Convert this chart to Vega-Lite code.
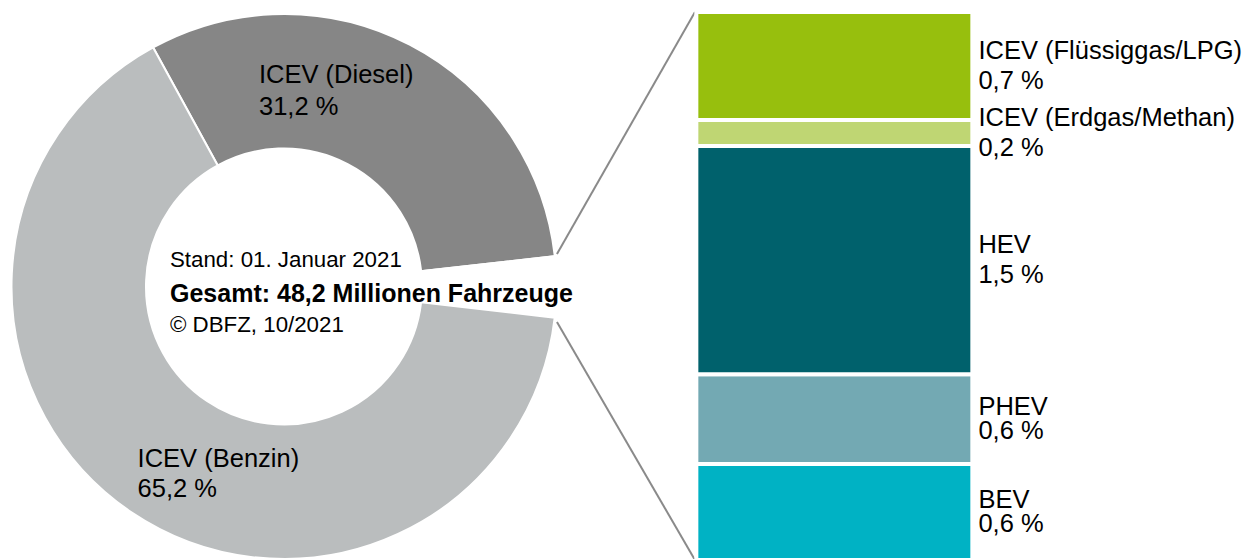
{
  "$schema": "https://vega.github.io/schema/vega-lite/v6.json",
  "background": "#ffffff",
  "padding": {"top": 10, "left": 0, "right": 0, "bottom": 0},
  "spacing": 0,
  "bounds": "flush",
  "resolve": {"scale": {"color": "independent", "theta": "independent"}},
  "config": {
    "view": {"stroke": null},
    "font": "Liberation Sans",
    "text": {"font": "Liberation Sans", "fontSize": 25.5, "color": "#000000"}
  },
  "hconcat": [
    {
      "width": 568,
      "height": 549,
      "data": {
        "values": [
          {"segment": "ICEV (Diesel)", "share": 31.2, "k": 1, "label": "ICEV (Diesel)\n31,2 %"},
          {"segment": "Weitere Antriebe", "share": 3.6, "k": 2, "label": ""},
          {"segment": "ICEV (Benzin)", "share": 65.2, "k": 3, "label": "ICEV (Benzin)\n65,2 %"}
        ]
      },
      "layer": [
        {
          "mark": {"type": "arc", "outerRadius": 272.5, "innerRadius": 138, "stroke": "#ffffff", "strokeWidth": 2},
          "encoding": {
            "theta": {"field": "share", "type": "quantitative", "stack": "zero", "scale": {"domain": [0, 100], "range": [-0.5009, 5.7823]}},
            "order": {"field": "k", "type": "quantitative"},
            "color": {
              "field": "segment", "type": "nominal", "legend": null,
              "scale": {"domain": ["ICEV (Diesel)", "Weitere Antriebe", "ICEV (Benzin)"], "range": ["#868686", "#ffffff", "#babdbe"]}
            }
          }
        },
        {
          "transform": [{"filter": "datum.k == 1"}],
          "mark": {"type": "text", "align": "left", "baseline": "middle", "lineBreak": "\n", "lineHeight": 32, "dx": -25, "dy": -211.5},
          "encoding": {"text": {"field": "label", "type": "nominal"}}
        },
        {
          "transform": [{"filter": "datum.k == 3"}],
          "mark": {"type": "text", "align": "left", "baseline": "middle", "lineBreak": "\n", "lineHeight": 30, "dx": -146.4, "dy": 172.2},
          "encoding": {"text": {"field": "label", "type": "nominal"}}
        },
        {
          "data": {"values": [{"note": "Stand: 01. Januar 2021"}]},
          "mark": {"type": "text", "align": "left", "baseline": "middle", "fontSize": 22.3, "dx": -114, "dy": -26.2},
          "encoding": {"text": {"field": "note", "type": "nominal"}}
        },
        {
          "data": {"values": [{"note": "Gesamt: 48,2 Millionen Fahrzeuge"}]},
          "mark": {"type": "text", "align": "left", "baseline": "middle", "fontSize": 25, "fontWeight": "bold", "dx": -114, "dy": 7.2},
          "encoding": {"text": {"field": "note", "type": "nominal"}}
        },
        {
          "data": {"values": [{"note": "© DBFZ, 10/2021"}]},
          "mark": {"type": "text", "align": "left", "baseline": "middle", "fontSize": 22.3, "dx": -114, "dy": 38.8},
          "encoding": {"text": {"field": "note", "type": "nominal"}}
        }
      ]
    },
    {
      "width": 690,
      "height": 548,
      "data": {
        "values": [
          {"type": "BEV", "share": 0.63, "k": 1, "label": "BEV\n0,6 %"},
          {"type": "PHEV", "share": 0.59, "k": 2, "label": "PHEV\n0,6 %"},
          {"type": "HEV", "share": 1.5, "k": 3, "label": "HEV\n1,5 %"},
          {"type": "ICEV (Erdgas/Methan)", "share": 0.17, "k": 4, "label": "ICEV (Erdgas/Methan)\n0,2 %"},
          {"type": "ICEV (Flüssiggas/LPG)", "share": 0.71, "k": 5, "label": "ICEV (Flüssiggas/LPG)\n0,7 %"}
        ]
      },
      "layer": [
        {
          "data": {"values": [{}]},
          "mark": {"type": "rule", "color": "#8a8a8a", "strokeWidth": 2},
          "encoding": {
            "x": {"datum": -0.04, "type": "quantitative", "scale": {"domain": [0, 2.5], "nice": false, "zero": false, "padding": 0}, "axis": null},
            "y": {"datum": 2.01, "type": "quantitative", "scale": {"domain": [0, 3.6], "nice": false, "zero": false, "padding": 0}, "axis": null},
            "x2": {"datum": 0.46},
            "y2": {"datum": 3.6}
          }
        },
        {
          "data": {"values": [{}]},
          "mark": {"type": "rule", "color": "#8a8a8a", "strokeWidth": 2},
          "encoding": {
            "x": {"datum": -0.04, "type": "quantitative", "axis": null},
            "y": {"datum": 1.5635, "type": "quantitative", "axis": null},
            "x2": {"datum": 0.46},
            "y2": {"datum": 0}
          }
        },
        {
          "transform": [{"stack": "share", "sort": [{"field": "k", "order": "ascending"}], "groupby": [], "as": ["s0", "s1"]}],
          "mark": {"type": "rect", "stroke": "#ffffff", "strokeWidth": 4},
          "encoding": {
            "x": {"datum": 0.465, "type": "quantitative", "axis": null},
            "x2": {"datum": 1.465},
            "y": {"field": "s0", "type": "quantitative", "axis": null},
            "y2": {"field": "s1"},
            "color": {
              "field": "type", "type": "nominal", "legend": null,
              "scale": {
                "domain": ["BEV", "PHEV", "HEV", "ICEV (Erdgas/Methan)", "ICEV (Flüssiggas/LPG)"],
                "range": ["#00b2c4", "#73a9b3", "#00616c", "#bfd673", "#97bf0d"]
              }
            }
          }
        },
        {
          "mark": {"type": "text", "align": "left", "baseline": "middle", "lineBreak": "\n", "lineHeight": 24, "dy": -12},
          "encoding": {
            "x": {"datum": 1.487, "type": "quantitative", "axis": null},
            "y": {"field": "share", "type": "quantitative", "stack": "zero", "bandPosition": 0.5, "axis": null},
            "order": {"field": "k", "type": "quantitative"},
            "text": {"condition": {"test": "datum.k <= 2", "field": "label"}, "value": ""}
          }
        },
        {
          "mark": {"type": "text", "align": "left", "baseline": "middle", "lineBreak": "\n", "lineHeight": 30, "dy": -15},
          "encoding": {
            "x": {"datum": 1.487, "type": "quantitative", "axis": null},
            "y": {"field": "share", "type": "quantitative", "stack": "zero", "bandPosition": 0.5, "axis": null},
            "order": {"field": "k", "type": "quantitative"},
            "text": {"condition": {"test": "datum.k >= 3", "field": "label"}, "value": ""}
          }
        }
      ]
    }
  ]
}
